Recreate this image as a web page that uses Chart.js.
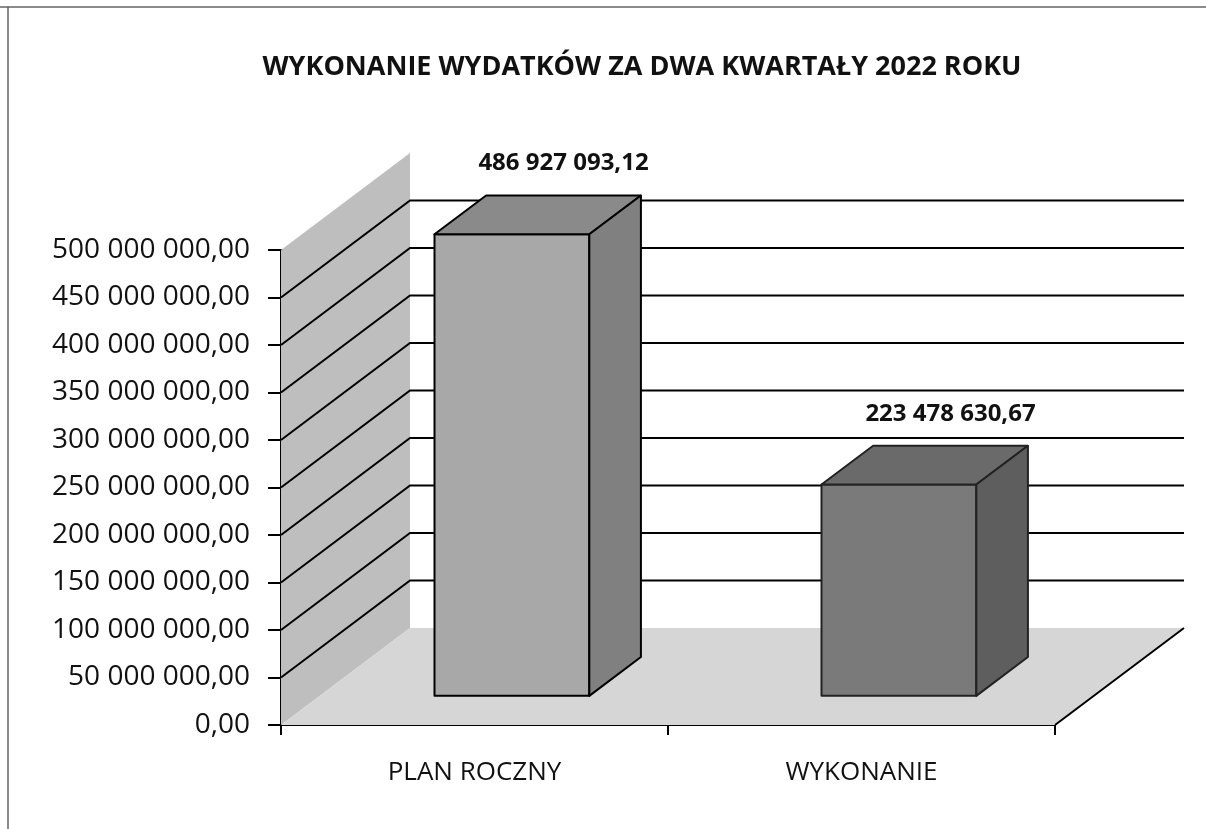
<!DOCTYPE html>
<html lang="pl">
<head>
  <meta charset="UTF-8">
  <title>Wykonanie wydatków</title>
  <script src="https://cdn.jsdelivr.net/npm/chart.js"></script>
  <style>
    body { margin: 0; background: #fff; }
    #chart { display: block; }
  </style>
</head>
<body>
  <canvas id="chart" width="1206" height="829"></canvas>

  <script>
    const chartTitle = 'WYKONANIE WYDATKÓW ZA DWA KWARTAŁY 2022 ROKU';
    const categories = ['PLAN ROCZNY', 'WYKONANIE'];
    const values = [486927093.12, 223478630.67];
    const yMax = 500000000;
    const yStep = 50000000;

    // kolory ścian i słupków (skan w odcieniach szarości)
    const frontColors = ['#a8a8a8', '#7a7a7a'];
    const topColors = ['#8a8a8a', '#6a6a6a'];
    const sideColors = ['#808080', '#5e5e5e'];

    // głębokość "3D"
    const DX = 129, DY = 97;

    function fmt(v, dec) {
      const parts = v.toFixed(dec).split('.');
      const intPart = parts[0].replace(/\B(?=(\d{3})+(?!\d))/g, ' ');
      return intPart + ',' + parts[1];
    }

    Chart.defaults.font.family = '"Open Sans", sans-serif';
    Chart.defaults.color = '#111';

    const threeD = {
      id: 'threeD',
      beforeDraw(chart) {
        const ctx = chart.ctx;
        ctx.save();
        ctx.fillStyle = '#fff';
        ctx.fillRect(0, 0, chart.width, chart.height);
        ctx.strokeStyle = '#666';
        ctx.lineWidth = 1.5;
        ctx.beginPath();
        ctx.moveTo(0, 7); ctx.lineTo(chart.width, 7);
        ctx.moveTo(8, 7); ctx.lineTo(8, chart.height);
        ctx.stroke();
        // tytuł (wyśrodkowany nad całym obszarem wykresu, razem z głębią)
        ctx.fillStyle = '#111';
        ctx.font = 'bold 27px "Open Sans", sans-serif';
        ctx.textAlign = 'center';
        ctx.textBaseline = 'middle';
        ctx.fillText(chartTitle, 642, 67);
        ctx.restore();
      },
      beforeDatasetsDraw(chart) {
        const ctx = chart.ctx;
        const a = chart.chartArea;
        const y = chart.scales.y;
        const top = y.getPixelForValue(yMax);
        const bot = y.getPixelForValue(0);
        ctx.save();
        // ściana boczna
        ctx.fillStyle = '#bebebe';
        ctx.beginPath();
        ctx.moveTo(a.left, top);
        ctx.lineTo(a.left + DX, top - DY);
        ctx.lineTo(a.left + DX, bot - DY);
        ctx.lineTo(a.left, bot);
        ctx.closePath();
        ctx.fill();
        // podłoga
        ctx.fillStyle = '#d6d6d6';
        ctx.beginPath();
        ctx.moveTo(a.left, bot);
        ctx.lineTo(a.right, bot);
        ctx.lineTo(a.right + DX, bot - DY);
        ctx.lineTo(a.left + DX, bot - DY);
        ctx.closePath();
        ctx.fill();
        // linie siatki
        ctx.strokeStyle = '#000';
        ctx.lineWidth = 2;
        ctx.beginPath();
        for (let v = yStep; v < yMax; v += yStep) {
          const py = y.getPixelForValue(v);
          ctx.moveTo(a.left, py);
          ctx.lineTo(a.left + DX, py - DY);
          ctx.lineTo(a.right + DX, py - DY);
        }
        ctx.moveTo(a.right, bot);
        ctx.lineTo(a.right + DX, bot - DY);
        ctx.stroke();
        ctx.restore();
      },
      afterDatasetsDraw(chart) {
        const ctx = chart.ctx;
        const meta = chart.getDatasetMeta(0);
        const ox = DX * 0.29, oy = DY * 0.29;
        const bx = DX * 0.40, by = DY * 0.40;
        ctx.save();
        ctx.lineWidth = 2;
        ctx.lineJoin = 'round';
        meta.data.forEach((bar, i) => {
          const p = bar.getProps(['x', 'y', 'base', 'width'], true);
          const l = p.x - p.width / 2 + ox;
          const r = p.x + p.width / 2 + ox;
          const t = p.y - oy;
          const b = p.base - oy;
          ctx.strokeStyle = i === 0 ? '#000' : '#222';
          // przód
          ctx.fillStyle = frontColors[i];
          ctx.beginPath();
          ctx.rect(l, t, r - l, b - t);
          ctx.fill(); ctx.stroke();
          // góra
          ctx.fillStyle = topColors[i];
          ctx.beginPath();
          ctx.moveTo(l, t); ctx.lineTo(r, t);
          ctx.lineTo(r + bx, t - by); ctx.lineTo(l + bx, t - by);
          ctx.closePath();
          ctx.fill(); ctx.stroke();
          // bok
          ctx.fillStyle = sideColors[i];
          ctx.beginPath();
          ctx.moveTo(r, t); ctx.lineTo(r + bx, t - by);
          ctx.lineTo(r + bx, b - by); ctx.lineTo(r, b);
          ctx.closePath();
          ctx.fill(); ctx.stroke();
          // etykieta wartości
          ctx.fillStyle = '#111';
          ctx.font = 'bold 24px "Open Sans", sans-serif';
          ctx.textAlign = 'center';
          ctx.textBaseline = 'middle';
          ctx.fillText(fmt(values[i], 2), p.x + ox + bx, t - by - 32);
        });
        ctx.restore();
      }
    };

    new Chart(document.getElementById('chart'), {
      type: 'bar',
      data: {
        labels: categories,
        datasets: [{
          data: values,
          backgroundColor: 'rgba(0,0,0,0)',
          borderWidth: 0,
          categoryPercentage: 0.8,
          barPercentage: 0.5
        }]
      },
      options: {
        responsive: false,
        animation: false,
        events: [],
        layout: { padding: { left: 0, right: 151, top: 250, bottom: 0 } },
        plugins: {
          legend: { display: false },
          tooltip: { enabled: false },
          title: { display: false }
        },
        scales: {
          x: {
            afterFit(scale) { scale.height = 104; },
            grid: { drawOnChartArea: false, offset: true, color: '#000', lineWidth: 2, tickLength: 10 },
            border: { display: true, color: '#000', width: 2 },
            ticks: { font: { size: 26 }, color: '#111', padding: 22 }
          },
          y: {
            min: 0,
            max: yMax,
            afterFit(scale) { scale.width = 281; },
            grid: { drawOnChartArea: false, color: '#000', lineWidth: 2, tickLength: 13 },
            border: { display: true, color: '#000', width: 2 },
            ticks: {
              stepSize: yStep,
              font: { size: 28 },
              color: '#111',
              padding: 18,
              callback: v => fmt(v, 2)
            }
          }
        }
      },
      plugins: [threeD]
    });
  </script>
</body>
</html>
